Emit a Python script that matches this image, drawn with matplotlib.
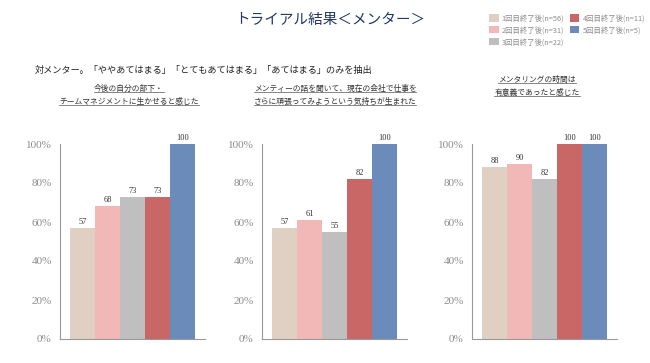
import matplotlib
matplotlib.use("Agg")
import matplotlib.pyplot as plt
from matplotlib.lines import Line2D
from matplotlib.patches import Patch

plt.rcParams['font.family'] = ['Noto Sans CJK JP', 'DejaVu Sans']

# data
series = ["1回目終了後(n=56)", "2回目終了後(n=31)", "3回目終了後(n=22)",
          "4回目終了後(n=11)", "5回目終了後(n=5)"]
colors = ["#E0D0C3", "#F2B8B8", "#BFBFBF", "#C96767", "#6B8CBA"]
panel_titles = [
    ["今後の自分の部下・", "チームマネジメントに生かせると感じた"],
    ["メンティーの話を聞いて、現在の会社で仕事を", "さらに頑張ってみようという気持ちが生まれた"],
    ["メンタリングの時間は", "有意義であったと感じた"],
]
values = [
    [57, 68, 73, 73, 100],
    [57, 61, 55, 82, 100],
    [88, 90, 82, 100, 100],
]
yticks = [0, 20, 40, 60, 80, 100]

fig = plt.figure(figsize=(6.5, 3.63), dpi=100)
W, H = 650, 363

lefts = [60, 262, 472]
title_y = [(89, 102), (89, 102), (80, 93)]
title_x = [129, 335, 537]
grey = "#8C8C8C"

for i, vals in enumerate(values):
    ax = fig.add_axes([lefts[i] / W, 1 - 339 / H, 145 / W, 195 / H])
    xs = range(len(vals))
    ax.bar(xs, vals, width=1.0, color=colors, edgecolor="none")
    for x, v in zip(xs, vals):
        ax.text(x, v + 1, str(v), ha="center", va="bottom", fontsize=6,
                family="Liberation Serif", color="#333333")
    ax.set_xlim(-0.9, 4.9)
    ax.set_ylim(0, 100)
    ax.set_yticks(yticks)
    ax.set_yticklabels([f"{t}%" for t in yticks], family="Liberation Serif",
                       fontsize=8, color=grey)
    ax.set_xticks([])
    ax.tick_params(axis="y", length=0, pad=6)
    for s in ["top", "right"]:
        ax.spines[s].set_visible(False)
    for s in ["left", "bottom"]:
        ax.spines[s].set_color("#999999")
        ax.spines[s].set_linewidth(0.8)

# titles
fig.text(330 / W, 1 - 20 / H, "トライアル結果＜メンター＞", ha="center", va="center",
         fontsize=10.5, color="#1F3864")
fig.text(35 / W, 1 - 70 / H,
         "対メンター。「ややあてはまる」「とてもあてはまる」「あてはまる」のみを抽出",
         ha="left", va="center", fontsize=6.6, color="#222222")

sub_texts = []
for i, lines in enumerate(panel_titles):
    for line, y in zip(lines, title_y[i]):
        t = fig.text(title_x[i] / W, 1 - y / H, line, ha="center", va="center",
                     fontsize=5.6, color="#333333")
        sub_texts.append(t)

# legend
handles = [Patch(facecolor=c, edgecolor="none") for c in colors]
fig.legend(handles, series, loc="upper left", bbox_to_anchor=(489 / W, 1 - 14 / H),
           ncol=2, frameon=False, fontsize=5.3, labelcolor=grey,
           handlelength=1.3, handleheight=1.2, handletextpad=0.4,
           columnspacing=0.8, labelspacing=0.5, borderaxespad=0, borderpad=0)

# underline panel titles
fig.canvas.draw()
r = fig.canvas.get_renderer()
for t in sub_texts:
    bb = t.get_window_extent(r).transformed(fig.transFigure.inverted())
    fig.add_artist(Line2D([bb.x0, bb.x1], [bb.y0 + 0.002, bb.y0 + 0.002],
                          transform=fig.transFigure, color="#555555", lw=0.5))

fig.savefig("out.png", dpi=100)
